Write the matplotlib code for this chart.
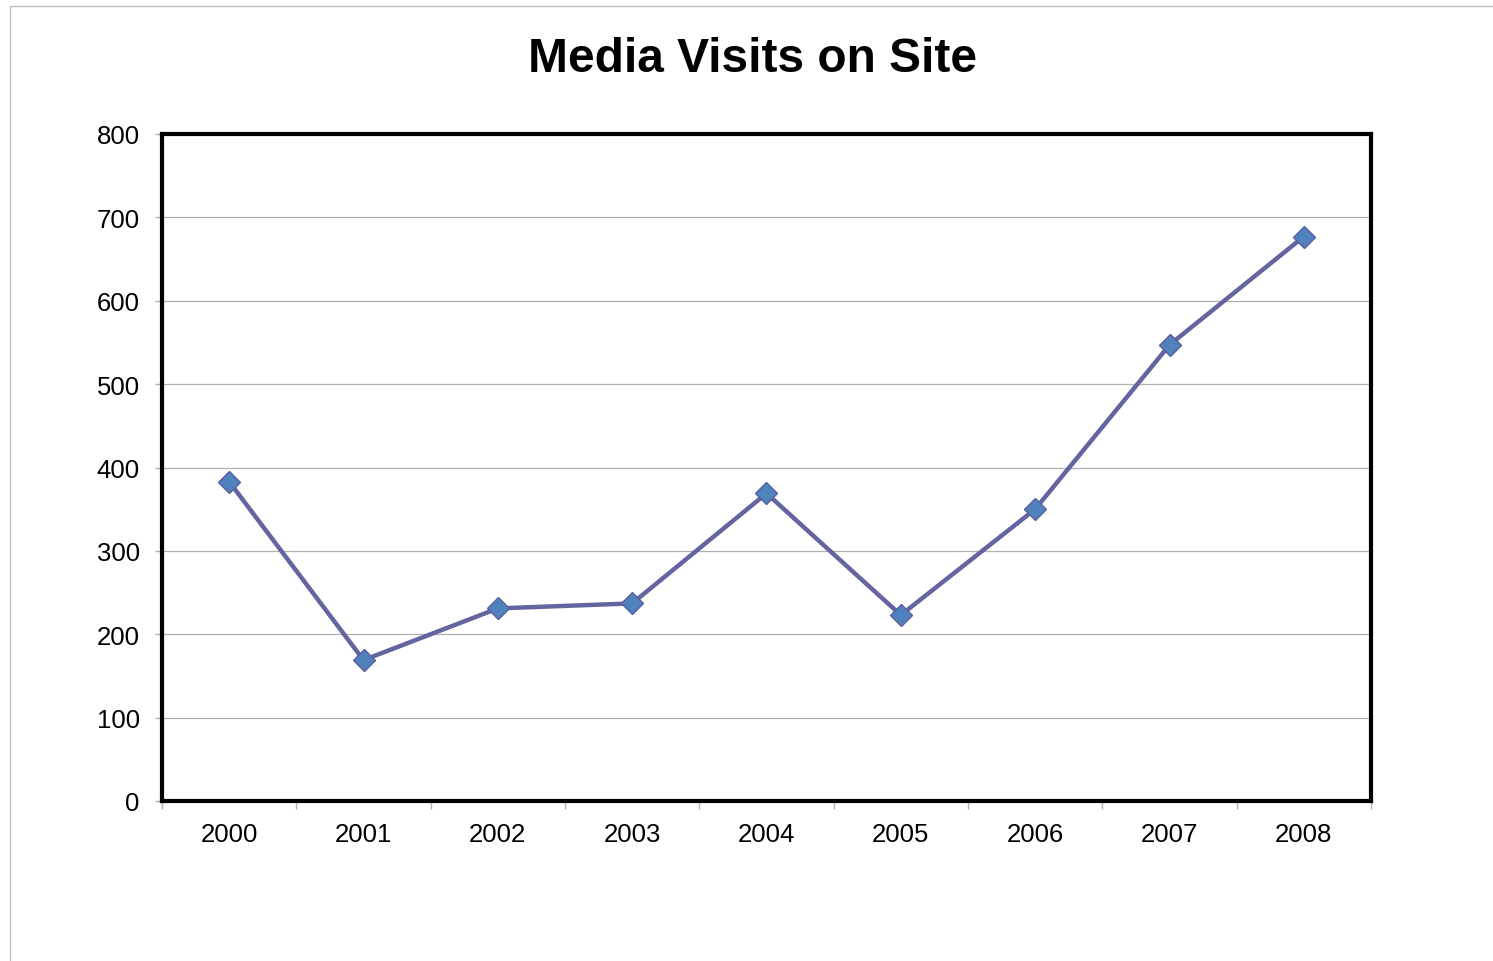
import matplotlib
matplotlib.use("Agg")
import matplotlib.pyplot as plt
from matplotlib.ticker import FixedLocator
from matplotlib.patches import Rectangle

# --- data ---
years = ["2000", "2001", "2002", "2003", "2004", "2005", "2006", "2007", "2008"]
visits = [383, 169, 231, 237, 369, 223, 350, 547, 677]
y_ticks = [0, 100, 200, 300, 400, 500, 600, 700, 800]

plt.rcParams["font.family"] = ["Liberation Sans", "DejaVu Sans"]

fig = plt.figure(figsize=(14.93, 9.62), dpi=100)
ax = fig.add_axes([162 / 1493, 1 - 802 / 962, (1371 - 162) / 1493, (802 - 135) / 962])

# outer chart frame (light gray, runs off the right and bottom edges)
fig.patches.append(Rectangle((10 / 1493, -0.1), 1.2, 1 - 7 / 962 + 0.1,
                             transform=fig.transFigure, fill=False,
                             edgecolor="#BFBFBF", linewidth=1))

x = list(range(len(years)))
ax.plot(x, visits, color="#6464A0", linewidth=3.2, marker="D", markersize=11,
        markerfacecolor="#4F81BD", markeredgecolor="#5A5E9E", markeredgewidth=1,
        zorder=3)

ax.set_xlim(-0.5, len(years) - 0.5)
ax.set_ylim(0, 800)
ax.set_yticks(y_ticks)
ax.grid(axis="y", color="#B0B0B0", linewidth=0.9)
ax.set_axisbelow(True)

ax.set_xticks(x)
ax.set_xticklabels(years)
ax.xaxis.set_minor_locator(FixedLocator([i - 0.5 for i in range(len(years) + 1)]))
ax.tick_params(axis="x", which="major", length=0, pad=15, labelsize=18.5)
ax.tick_params(axis="x", which="minor", length=6, color="#B0B0B0", width=1)
ax.tick_params(axis="y", length=5, color="#B0B0B0", width=1, pad=11, labelsize=18.5)

for s in ax.spines.values():
    s.set_linewidth(3)
    s.set_color("black")

fig.text(753 / 1493, 1 - 59 / 962, "Media Visits on Site", ha="center", va="center",
         fontsize=34.5, fontweight="bold")

fig.savefig("out.png", dpi=100)
